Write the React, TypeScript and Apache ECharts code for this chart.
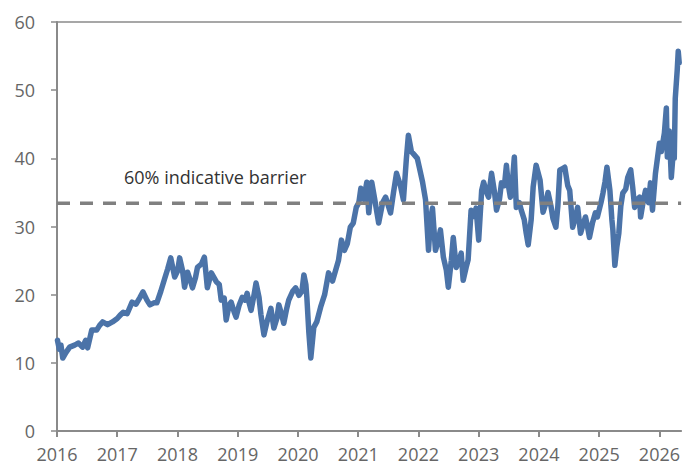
import React, { useEffect, useRef } from "react";
import * as echarts from "echarts";

const dates: string[] = [
  "2016-01-04","2016-01-15","2016-01-25","2016-02-05","2016-02-24","2016-03-18","2016-04-17","2016-05-11","2016-06-04","2016-06-23","2016-07-05","2016-07-30","2016-08-29","2016-09-16","2016-10-04","2016-11-03","2016-12-03",
  "2017-01-01","2017-01-19","2017-02-06","2017-03-02","2017-04-01","2017-04-25","2017-05-19","2017-06-06","2017-06-30","2017-07-18","2017-08-11","2017-08-29","2017-09-22","2017-10-16","2017-11-03","2017-11-21","2017-12-03","2017-12-15",
  "2018-01-02","2018-01-14","2018-02-01","2018-02-13","2018-03-03","2018-03-21","2018-04-02","2018-04-20","2018-05-02","2018-05-26","2018-06-13","2018-07-01","2018-07-25","2018-08-24","2018-09-11","2018-09-23","2018-10-11","2018-10-23","2018-11-10","2018-11-22","2018-12-10","2018-12-22",
  "2019-01-10","2019-01-28","2019-02-15","2019-02-27","2019-03-11","2019-03-23","2019-04-10","2019-04-22","2019-05-10","2019-05-22","2019-06-09","2019-06-27","2019-07-21","2019-08-08","2019-08-26","2019-09-07","2019-09-25","2019-10-07","2019-10-25","2019-11-06","2019-11-30","2019-12-18",
  "2020-01-07","2020-01-25","2020-02-06","2020-02-18","2020-02-24","2020-03-07","2020-03-19","2020-04-06","2020-04-24","2020-05-18","2020-06-11","2020-07-05","2020-07-29","2020-08-16","2020-09-03","2020-09-21","2020-10-09","2020-10-27","2020-11-14","2020-12-02","2020-12-20",
  "2021-01-05","2021-01-17","2021-02-04","2021-02-22","2021-03-06","2021-03-24","2021-04-11","2021-05-05","2021-05-29","2021-06-16","2021-07-16","2021-08-03","2021-08-21","2021-09-14","2021-10-02","2021-10-20","2021-11-01","2021-11-19","2021-12-07","2021-12-25",
  "2022-01-08","2022-01-26","2022-02-13","2022-03-03","2022-03-15","2022-03-27","2022-04-14","2022-05-02","2022-05-14","2022-06-01","2022-06-19","2022-07-01","2022-07-19","2022-07-31","2022-08-18","2022-09-05","2022-09-17","2022-09-29","2022-10-17","2022-10-29","2022-11-16","2022-12-04","2022-12-16",
  "2023-01-01","2023-01-19","2023-01-31","2023-02-18","2023-03-02","2023-03-20","2023-04-07","2023-04-19","2023-05-07","2023-05-19","2023-06-06","2023-06-18","2023-06-30","2023-07-12","2023-07-24","2023-08-05","2023-08-17","2023-09-04","2023-09-16","2023-10-04","2023-10-16","2023-10-28","2023-11-15","2023-11-27","2023-12-15",
  "2024-01-08","2024-01-26","2024-02-13","2024-02-25","2024-03-14","2024-03-26","2024-04-13","2024-04-25","2024-05-07","2024-05-25","2024-06-06","2024-06-24","2024-07-06","2024-07-24","2024-08-11","2024-08-23","2024-09-10","2024-09-28","2024-10-10","2024-10-22","2024-11-03","2024-11-21","2024-12-09","2024-12-21",
  "2025-01-12","2025-01-24","2025-02-05","2025-02-17","2025-03-07","2025-03-19","2025-03-25","2025-04-06","2025-04-18","2025-04-30","2025-05-12","2025-05-24","2025-06-11","2025-06-23","2025-07-11","2025-07-23","2025-08-04","2025-08-22","2025-09-03","2025-09-09","2025-09-27","2025-10-09","2025-10-27","2025-11-08","2025-11-20","2025-12-08","2025-12-20",
  "2026-01-01","2026-01-13","2026-01-31","2026-02-12","2026-02-18","2026-03-02","2026-03-14","2026-03-26","2026-04-01","2026-04-07","2026-04-19","2026-04-25","2026-05-01"
];

const values: number[] = [
  13.3,12.0,12.6,10.7,11.5,12.3,12.6,12.9,12.3,13.3,12.2,14.8,14.8,15.5,16.0,15.6,16.0,
  16.5,17.0,17.4,17.2,18.9,18.6,19.6,20.4,19.2,18.5,18.8,18.8,20.5,22.4,23.8,25.4,24.0,22.6,
  23.5,25.4,23.5,21.1,23.3,22.0,21.0,22.5,24.0,24.5,25.5,21.0,23.2,21.9,21.5,19.2,19.5,16.3,18.5,18.9,17.5,16.7,
  18.5,19.6,19.2,20.2,18.8,17.7,20.0,21.7,19.6,17.0,14.1,16.0,18.0,15.1,16.5,18.5,17.0,15.8,18.0,19.2,20.5,21.0,
  19.9,20.5,22.9,21.5,19.6,14.5,10.7,15.2,16.0,18.2,20.0,23.2,22.0,23.5,25.0,28.0,26.5,27.5,29.9,30.5,32.8,
  33.5,35.6,34.0,36.5,32.0,36.5,34.0,30.5,33.5,34.3,32.0,35.0,37.8,36.0,33.9,40.0,43.4,41.0,40.5,40.0,
  38.5,36.5,33.9,26.5,31.0,32.7,26.5,28.0,29.5,25.5,23.6,21.1,25.0,28.4,24.0,25.0,26.1,22.1,24.0,25.1,32.4,31.5,32.7,
  28.0,35.3,36.5,35.0,34.3,37.8,35.0,32.4,34.0,36.4,36.0,39.0,36.0,34.3,36.5,40.2,32.8,33.5,32.4,31.0,29.0,27.3,31.0,35.8,39.0,
  36.8,32.1,33.5,35.0,33.0,31.2,29.9,33.0,38.3,38.5,38.7,36.0,35.3,29.9,31.5,32.8,29.0,30.5,31.4,30.0,28.4,30.5,32.0,31.4,
  33.5,34.9,36.5,38.7,35.3,31.0,29.5,24.3,27.0,29.0,33.0,34.9,35.5,37.2,38.3,35.8,32.8,34.0,34.3,31.4,34.0,35.3,33.5,36.4,32.4,37.8,40.0,
  42.2,41.0,43.7,47.4,40.2,44.0,37.2,41.0,40.0,48.8,53.0,55.7,54.0
];

const barrierValue = 33.4;
const barrierLabel = "60% indicative barrier";
const xMin = 2016;
const xMax = 2026.36;
const yTicks = [0, 10, 20, 30, 40, 50, 60];

function toYear(s: string): number {
  const y = +s.slice(0, 4);
  const d = Date.UTC(y, +s.slice(5, 7) - 1, +s.slice(8, 10));
  const a = Date.UTC(y, 0, 1);
  const b = Date.UTC(y + 1, 0, 1);
  return y + (d - a) / (b - a);
}

export default function App() {
  const ref = useRef<HTMLDivElement>(null);
  useEffect(() => {
    if (!ref.current) return;
    const chart = echarts.init(ref.current, undefined, { renderer: "svg" });
    const font = "'Open Sans', 'Noto Sans', sans-serif";
    const axisColor = "#8a8a8a";
    chart.setOption({
      animation: false,
      backgroundColor: "#ffffff",
      grid: { left: 57, right: 0, top: 22, bottom: 37, containLabel: false },
      xAxis: [
        {
          type: "value",
          min: xMin,
          max: xMax,
          interval: 1,
          axisLine: { show: true, lineStyle: { color: axisColor, width: 2 } },
          axisTick: { show: true, length: 6, lineStyle: { color: axisColor, width: 2 } },
          splitLine: { show: false },
          axisLabel: {
            color: "#666666",
            fontSize: 18,
            fontFamily: font,
            margin: 14,
            showMaxLabel: false,
            formatter: (v: number) => (Math.abs(v - Math.round(v)) < 1e-6 ? String(Math.round(v)) : ""),
          },
        },
        {
          type: "value",
          position: "top",
          min: xMin,
          max: xMax,
          axisLine: { show: true, lineStyle: { color: axisColor, width: 1.5 } },
          axisTick: { show: false },
          axisLabel: { show: false },
          splitLine: { show: false },
        },
      ],
      yAxis: {
        type: "value",
        min: yTicks[0],
        max: yTicks[yTicks.length - 1],
        interval: 10,
        axisLine: { show: true, lineStyle: { color: axisColor, width: 2 } },
        axisTick: { show: true, length: 6, lineStyle: { color: axisColor, width: 1.5 } },
        splitLine: { show: false },
        axisLabel: { color: "#666666", fontSize: 18, fontFamily: font, margin: 22 },
      },
      series: [
        {
          type: "line",
          data: dates.map((d, i) => [toYear(d), values[i]]),
          showSymbol: false,
          symbol: "none",
          lineStyle: { color: "#4b73a8", width: 5.5, join: "round", cap: "round" },
          z: 2,
        },
        {
          type: "line",
          data: [
            [xMin, barrierValue],
            [xMax, barrierValue],
          ],
          symbol: "none",
          lineStyle: { color: "#808080", width: 3.5, type: [13, 10] },
          z: 3,
        },
      ],
      graphic: [
        {
          type: "text",
          left: 124,
          top: 168,
          style: { text: barrierLabel, fill: "#333333", fontSize: 18, fontFamily: font },
        },
      ],
    });
    return () => chart.dispose();
  }, []);
  return <div ref={ref} style={{ width: 683, height: 468, position: "fixed", left: 0, top: 0 }} />;
}
